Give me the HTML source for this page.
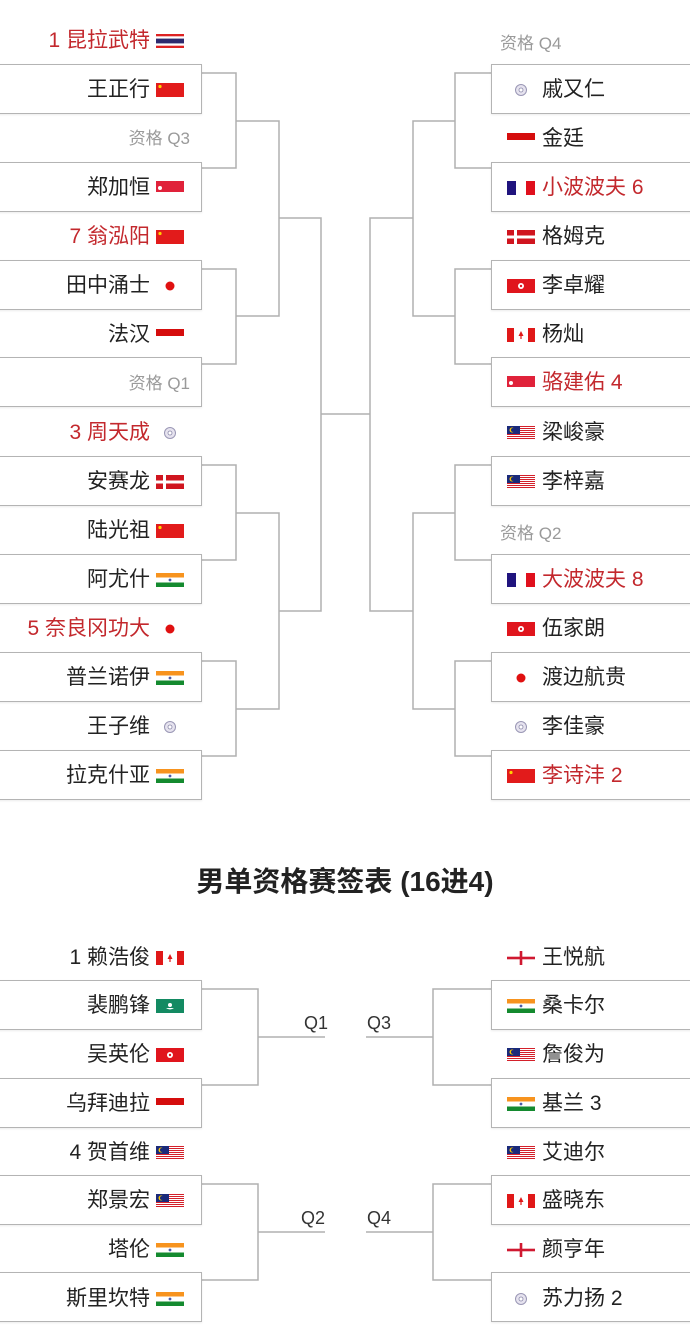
<!DOCTYPE html>
<html><head><meta charset="utf-8"><style>
body{margin:0;width:690px;height:1332px;position:relative;background:#fff;overflow:hidden;font-family:"Liberation Sans","Noto Sans CJK SC",sans-serif;}
.b{position:absolute;border:1.5px solid #b4b4b4;background:#fff;box-shadow:0 1px 2px rgba(0,0,0,0.08);box-sizing:border-box;height:50px}
.bl{left:-3px;width:205px}
.br{left:491px;width:202px}
.l{position:absolute;left:0;width:150px;text-align:right;font-size:21px;line-height:49px;height:49px;color:#222;white-space:nowrap}
.r{position:absolute;left:542px;font-size:21px;line-height:49px;height:49px;color:#222;white-space:nowrap}
.red{color:#c3282d}
.q{color:#9a9a9a;font-size:17px}
.fl{position:absolute;left:156px}
.fr{position:absolute;left:507px}
svg.f{position:absolute;width:28px;height:14px}
.title{position:absolute;top:864px;left:0;width:690px;text-align:center;font-size:28px;line-height:36px;font-weight:bold;color:#222}
.ql{position:absolute;font-size:18px;color:#333}
</style></head><body>
<svg width="690" height="1332" style="position:absolute;left:0;top:0" fill="none" stroke="#b0b0b0" stroke-width="1.5">
<path d="M201 73H236V168H201M201 269H236V364H201M201 465H236V560H201M201 661H236V756H201"/>
<path d="M236 121H279V316H236M236 513H279V709H236"/>
<path d="M279 218H321V611H279M321 414H370"/>
<path d="M413 218H370V611H413"/>
<path d="M455 121H413V316H455M455 513H413V709H455"/>
<path d="M491 73H455V168H491M491 269H455V364H491M491 465H455V560H491M491 661H455V756H491"/>
<path d="M201 989H258V1085H201M258 1037H325M201 1184H258V1280H201M258 1232H325"/>
<path d="M491 989H433V1085H491M433 1037H366M491 1184H433V1280H491M433 1232H366"/>
</svg>
<svg style="display:none"><defs>
<symbol id="th" viewBox="0 0 28 14"><rect width="28" height="14" fill="#fff"/><rect y="0" width="28" height="2.3" fill="#d22"/><rect y="4.6" width="28" height="4.8" fill="#2d2a6e"/><rect y="11.7" width="28" height="2.3" fill="#d22"/></symbol>
<symbol id="cn" viewBox="0 0 28 14"><rect width="28" height="14" fill="#e21b1b"/><circle cx="4" cy="3.5" r="1.6" fill="#ffd200"/></symbol>
<symbol id="sg" viewBox="0 0 28 14"><rect width="28" height="7" fill="#e0223a"/><rect y="7" width="28" height="7" fill="#fff"/><rect y="3" width="28" height="8" fill="#e0223a"/><circle cx="4" cy="7" r="2" fill="#fff"/></symbol>
<symbol id="jp" viewBox="0 0 28 14"><circle cx="14" cy="7" r="4.5" fill="#e01010"/></symbol>
<symbol id="id" viewBox="0 0 28 14"><rect y="3" width="28" height="7" fill="#d50d0d"/></symbol>
<symbol id="tpe" viewBox="0 0 28 14"><circle cx="14" cy="7" r="5.5" fill="#e6e3ef" stroke="#9a97b5" stroke-width="1"/><circle cx="14" cy="7" r="2" fill="#fff" stroke="#8a87a8" stroke-width="0.8"/></symbol>
<symbol id="dk" viewBox="0 0 28 14"><rect width="28" height="14" fill="#d0151f"/><rect x="7" width="3" height="14" fill="#fff"/><rect y="5.5" width="28" height="3" fill="#fff"/></symbol>
<symbol id="in" viewBox="0 0 28 14"><rect width="28" height="4.5" fill="#f7931e"/><rect y="4.5" width="28" height="5" fill="#fff"/><rect y="9.5" width="28" height="4.5" fill="#148a2f"/><circle cx="14" cy="7" r="1.4" fill="#4a5aa8"/></symbol>
<symbol id="fr" viewBox="0 0 28 14"><rect width="9" height="14" fill="#20147e"/><rect x="19" width="9" height="14" fill="#e0101d"/></symbol>
<symbol id="hk" viewBox="0 0 28 14"><rect width="28" height="14" fill="#e0151d"/><circle cx="14" cy="7" r="3" fill="#fff"/><circle cx="14" cy="7" r="1.2" fill="#e0151d"/></symbol>
<symbol id="ca" viewBox="0 0 28 14"><rect width="7" height="14" fill="#e01818"/><rect x="21" width="7" height="14" fill="#e01818"/><path d="M14 3L16.5 8H11.5Z" fill="#e01818"/><rect x="13.4" y="7" width="1.2" height="4" fill="#e01818"/></symbol>
<symbol id="my" viewBox="0 0 28 14"><rect width="28" height="14" fill="#fff"/><g fill="#d4202a"><rect y="0" width="28" height="1"/><rect y="2" width="28" height="1"/><rect y="4" width="28" height="1"/><rect y="6" width="28" height="1"/><rect y="8" width="28" height="1"/><rect y="10" width="28" height="1"/><rect y="12" width="28" height="1"/></g><rect width="13" height="8" fill="#1a2a7a"/><circle cx="5" cy="4" r="2.5" fill="#f5c400"/><circle cx="6" cy="4" r="2" fill="#1a2a7a"/></symbol>
<symbol id="mo" viewBox="0 0 28 14"><rect width="28" height="14" fill="#138a62"/><path d="M10 9Q14 12 18 9Z" fill="#fff"/><circle cx="14" cy="6" r="2" fill="#fff"/></symbol>
<symbol id="en" viewBox="0 0 28 14"><rect x="0" y="5.7" width="28" height="2.6" fill="#d01830"/><rect x="12.7" y="0" width="2.6" height="14" fill="#d01830"/></symbol>
</defs></svg>

<div class="b bl" style="top:64px"></div>
<div class="b bl" style="top:162px"></div>
<div class="b bl" style="top:260px"></div>
<div class="b bl" style="top:357px"></div>
<div class="b bl" style="top:456px"></div>
<div class="b bl" style="top:554px"></div>
<div class="b bl" style="top:652px"></div>
<div class="b bl" style="top:750px"></div>
<div class="b br" style="top:64px"></div>
<div class="b br" style="top:162px"></div>
<div class="b br" style="top:260px"></div>
<div class="b br" style="top:357px"></div>
<div class="b br" style="top:456px"></div>
<div class="b br" style="top:554px"></div>
<div class="b br" style="top:652px"></div>
<div class="b br" style="top:750px"></div>

<div class="l red" style="top:16px">1 昆拉武特</div><svg class="f fl" style="top:34px"><use href="#th"/></svg>
<div class="l" style="top:65px">王正行</div><svg class="f fl" style="top:83px"><use href="#cn"/></svg>
<div class="l q" style="top:114px;left:40px">资格 Q3</div>
<div class="l" style="top:163px">郑加恒</div><svg class="f fl" style="top:181px"><use href="#sg"/></svg>
<div class="l red" style="top:212px">7 翁泓阳</div><svg class="f fl" style="top:230px"><use href="#cn"/></svg>
<div class="l" style="top:261px">田中涌士</div><svg class="f fl" style="top:279px"><use href="#jp"/></svg>
<div class="l" style="top:310px">法汉</div><svg class="f fl" style="top:326px"><use href="#id"/></svg>
<div class="l q" style="top:359px;left:40px">资格 Q1</div>
<div class="l red" style="top:408px">3 周天成</div><svg class="f fl" style="top:426px"><use href="#tpe"/></svg>
<div class="l" style="top:457px">安赛龙</div><svg class="f fl" style="top:475px"><use href="#dk"/></svg>
<div class="l" style="top:506px">陆光祖</div><svg class="f fl" style="top:524px"><use href="#cn"/></svg>
<div class="l" style="top:555px">阿尤什</div><svg class="f fl" style="top:573px"><use href="#in"/></svg>
<div class="l red" style="top:604px">5 奈良冈功大</div><svg class="f fl" style="top:622px"><use href="#jp"/></svg>
<div class="l" style="top:653px">普兰诺伊</div><svg class="f fl" style="top:671px"><use href="#in"/></svg>
<div class="l" style="top:702px">王子维</div><svg class="f fl" style="top:720px"><use href="#tpe"/></svg>
<div class="l" style="top:751px">拉克什亚</div><svg class="f fl" style="top:769px"><use href="#in"/></svg>

<div class="r q" style="top:19px;left:500px">资格 Q4</div>
<svg class="f fr" style="top:83px"><use href="#tpe"/></svg><div class="r" style="top:65px">戚又仁</div>
<svg class="f fr" style="top:130px"><use href="#id"/></svg><div class="r" style="top:114px">金廷</div>
<svg class="f fr" style="top:181px"><use href="#fr"/></svg><div class="r red" style="top:163px">小波波夫 6</div>
<svg class="f fr" style="top:230px"><use href="#dk"/></svg><div class="r" style="top:212px">格姆克</div>
<svg class="f fr" style="top:279px"><use href="#hk"/></svg><div class="r" style="top:261px">李卓耀</div>
<svg class="f fr" style="top:328px"><use href="#ca"/></svg><div class="r" style="top:310px">杨灿</div>
<svg class="f fr" style="top:376px"><use href="#sg"/></svg><div class="r red" style="top:358px">骆建佑 4</div>
<svg class="f fr" style="top:426px"><use href="#my"/></svg><div class="r" style="top:408px">梁峻豪</div>
<svg class="f fr" style="top:475px"><use href="#my"/></svg><div class="r" style="top:457px">李梓嘉</div>
<div class="r q" style="top:509px;left:500px">资格 Q2</div>
<svg class="f fr" style="top:573px"><use href="#fr"/></svg><div class="r red" style="top:555px">大波波夫 8</div>
<svg class="f fr" style="top:622px"><use href="#hk"/></svg><div class="r" style="top:604px">伍家朗</div>
<svg class="f fr" style="top:671px"><use href="#jp"/></svg><div class="r" style="top:653px">渡边航贵</div>
<svg class="f fr" style="top:720px"><use href="#tpe"/></svg><div class="r" style="top:702px">李佳豪</div>
<svg class="f fr" style="top:769px"><use href="#cn"/></svg><div class="r red" style="top:751px">李诗沣 2</div>

<div class="title">男单资格赛签表 (16进4)</div>

<div class="b bl" style="top:980px"></div>
<div class="b bl" style="top:1078px"></div>
<div class="b bl" style="top:1175px"></div>
<div class="b bl" style="top:1272px"></div>
<div class="b br" style="top:980px"></div>
<div class="b br" style="top:1078px"></div>
<div class="b br" style="top:1175px"></div>
<div class="b br" style="top:1272px"></div>

<div class="l" style="top:933px">1 赖浩俊</div><svg class="f fl" style="top:951px"><use href="#ca"/></svg>
<div class="l" style="top:981px">裴鹏锋</div><svg class="f fl" style="top:999px"><use href="#mo"/></svg>
<div class="l" style="top:1030px">吴英伦</div><svg class="f fl" style="top:1048px"><use href="#hk"/></svg>
<div class="l" style="top:1079px">乌拜迪拉</div><svg class="f fl" style="top:1095px"><use href="#id"/></svg>
<div class="l" style="top:1128px">4 贺首维</div><svg class="f fl" style="top:1146px"><use href="#my"/></svg>
<div class="l" style="top:1176px">郑景宏</div><svg class="f fl" style="top:1194px"><use href="#my"/></svg>
<div class="l" style="top:1225px">塔伦</div><svg class="f fl" style="top:1243px"><use href="#in"/></svg>
<div class="l" style="top:1274px">斯里坎特</div><svg class="f fl" style="top:1292px"><use href="#in"/></svg>

<svg class="f fr" style="top:951px"><use href="#en"/></svg><div class="r" style="top:933px">王悦航</div>
<svg class="f fr" style="top:999px"><use href="#in"/></svg><div class="r" style="top:981px">桑卡尔</div>
<svg class="f fr" style="top:1048px"><use href="#my"/></svg><div class="r" style="top:1030px">詹俊为</div>
<svg class="f fr" style="top:1097px"><use href="#in"/></svg><div class="r" style="top:1079px">基兰 3</div>
<svg class="f fr" style="top:1146px"><use href="#my"/></svg><div class="r" style="top:1128px">艾迪尔</div>
<svg class="f fr" style="top:1194px"><use href="#ca"/></svg><div class="r" style="top:1176px">盛晓东</div>
<svg class="f fr" style="top:1243px"><use href="#en"/></svg><div class="r" style="top:1225px">颜亨年</div>
<svg class="f fr" style="top:1292px"><use href="#tpe"/></svg><div class="r" style="top:1274px">苏力扬 2</div>

<div class="ql" style="left:304px;top:1013px">Q1</div>
<div class="ql" style="left:301px;top:1208px">Q2</div>
<div class="ql" style="left:367px;top:1013px">Q3</div>
<div class="ql" style="left:367px;top:1208px">Q4</div>
</body></html>
